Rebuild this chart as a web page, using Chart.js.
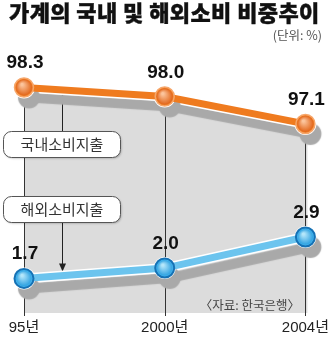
<!DOCTYPE html>
<html>
<head>
<meta charset="utf-8">
<script src="https://cdn.jsdelivr.net/npm/chart.js@4.4.0/dist/chart.umd.min.js"></script>
<style>
  html, body { margin: 0; padding: 0; background: #fff; }
  #wrap { position: relative; width: 332px; height: 340px; overflow: hidden; }
  #c { position: absolute; left: 0; top: 0; }
  #title { position: absolute; left: 9px; top: -5px; font: 900 22px "Noto Sans CJK KR"; letter-spacing: 0.4px; color: #111; white-space: nowrap; -webkit-text-stroke: 0.4px #111; }
  #unit { position: absolute; right: 10px; top: 25px; font: 12.5px "Noto Sans CJK KR"; color: #555; white-space: nowrap; }
</style>
</head>
<body>
<div id="wrap">
  <canvas id="c" width="332" height="340"></canvas>
  <div id="title">가계의 국내 및 해외소비 비중추이</div>
  <div id="unit">(단위: %)</div>
</div>
<script>
  'use strict';

  // data
  const years = ['95년', '2000년', '2004년'];
  const domestic = [98.3, 98.0, 97.1];
  const abroad = [1.7, 2.0, 2.9];
  const seriesNames = ['국내소비지출', '해외소비지출'];
  const sourceNote = '〈자료: 한국은행〉';

  const ORANGE = '#ef7b1f';
  const BLUE = '#6cc4ee';
  const SHADOW = '#a9a9a9';
  const FILL = '#dcdcdc';
  const NUM_FONT = '"Liberation Sans", Arial, sans-serif';
  const KR_FONT = '"Noto Sans CJK KR", sans-serif';

  function lineYAt(meta, x) {
    const pts = meta.data;
    for (let i = 0; i < pts.length - 1; i++) {
      const a = pts[i], b = pts[i + 1];
      if (x >= a.x && x <= b.x) {
        return a.y + (b.y - a.y) * (x - a.x) / (b.x - a.x);
      }
    }
    return pts[0].y;
  }

  function roundBox(ctx, x, y, w, h, r) {
    ctx.beginPath();
    ctx.moveTo(x + r, y);
    ctx.arcTo(x + w, y, x + w, y + h, r);
    ctx.arcTo(x + w, y + h, x, y + h, r);
    ctx.arcTo(x, y + h, x, y, r);
    ctx.arcTo(x, y, x + w, y, r);
    ctx.closePath();
  }

  function arrow(ctx, x, y1, y2) {
    // line from y1 to tip at y2
    const dir = y2 < y1 ? 1 : -1;
    ctx.beginPath();
    ctx.moveTo(x + 0.5, y1);
    ctx.lineTo(x + 0.5, y2);
    ctx.stroke();
    ctx.beginPath();
    ctx.moveTo(x + 0.5, y2);
    ctx.lineTo(x - 3, y2 + dir * 8);
    ctx.lineTo(x + 4, y2 + dir * 8);
    ctx.closePath();
    ctx.fill();
  }

  // gray area, drop lines, labels, arrows
  const backdrop = {
    id: 'backdrop',
    beforeDatasetsDraw(chart) {
      const ctx = chart.ctx;
      const area = chart.chartArea;
      const top = chart.getDatasetMeta(0).data;
      ctx.save();
      ctx.fillStyle = FILL;
      ctx.beginPath();
      ctx.moveTo(top[0].x, area.bottom - 3);
      top.forEach(p => ctx.lineTo(p.x, p.y + 10));
      ctx.lineTo(top[top.length - 1].x + 2, top[top.length - 1].y + 10);
      ctx.lineTo(top[top.length - 1].x + 2, area.bottom - 3);
      ctx.closePath();
      ctx.fill();

      ctx.strokeStyle = '#333';
      ctx.lineWidth = 1;
      top.forEach(p => {
        ctx.beginPath();
        ctx.moveTo(Math.round(p.x) + 0.5, p.y);
        ctx.lineTo(Math.round(p.x) + 0.5, area.bottom);
        ctx.stroke();
      });

      // arrows to the lines
      const ax = 62;
      const yTop = lineYAt(chart.getDatasetMeta(0), ax) + 4;
      const yBot = lineYAt(chart.getDatasetMeta(1), ax) - 4;
      ctx.fillStyle = '#222';
      ctx.strokeStyle = '#222';
      arrow(ctx, ax, 131, yTop);
      arrow(ctx, ax, 223, yBot);

      // label boxes
      const boxes = [[3.5, 131.5], [3.5, 196.5]];
      boxes.forEach((b, i) => {
        ctx.save();
        ctx.shadowColor = 'rgba(0,0,0,0.25)';
        ctx.shadowOffsetX = 1;
        ctx.shadowOffsetY = 1;
        ctx.shadowBlur = 2;
        roundBox(ctx, b[0], b[1], 117, 26, 8);
        ctx.fillStyle = '#fff';
        ctx.fill();
        ctx.restore();
        roundBox(ctx, b[0], b[1], 117, 26, 8);
        ctx.strokeStyle = '#555';
        ctx.stroke();
        ctx.fillStyle = '#333';
        ctx.font = '15px ' + KR_FONT;
        ctx.textAlign = 'center';
        ctx.textBaseline = 'middle';
        ctx.fillText(seriesNames[i], b[0] + 58.5, b[1] + 13);
      });
      ctx.restore();
    },
    beforeDatasetDraw(chart, args) {
      if (!args.meta._dataset.shadow) return;
      const ctx = chart.ctx;
      ctx.save();
      ctx.shadowColor = SHADOW;
      ctx.shadowOffsetX = 5;
      ctx.shadowOffsetY = 10;
      ctx.shadowBlur = 1;
    },
    afterDatasetDraw(chart, args) {
      if (!args.meta._dataset.shadow) return;
      chart.ctx.restore();
    },
    afterDatasetsDraw(chart) {
      const ctx = chart.ctx;
      ctx.save();
      // glossy point centres
      const shades = [['#fbc49c', '#e2661a'], ['#b4e6fa', '#2a9fe0']];
      [0, 1].forEach(di => {
        chart.getDatasetMeta(di).data.forEach(p => {
          const g = ctx.createRadialGradient(p.x - 2, p.y - 3, 1, p.x, p.y, 8);
          g.addColorStop(0, shades[di][0]);
          g.addColorStop(1, shades[di][1]);
          ctx.fillStyle = g;
          ctx.beginPath();
          ctx.arc(p.x, p.y, di === 0 ? 8 : 7.5, 0, Math.PI * 2);
          ctx.fill();
        });
      });
      // value labels
      ctx.fillStyle = '#111';
      ctx.font = 'bold 19px ' + NUM_FONT;
      ctx.textAlign = 'center';
      ctx.textBaseline = 'alphabetic';
      [[0, domestic], [1, abroad]].forEach(([di, vals]) => {
        chart.getDatasetMeta(di).data.forEach((p, i) => {
          ctx.fillText(vals[i].toFixed(1), p.x + 1, p.y - 19);
        });
      });
      // source
      ctx.fillStyle = '#444';
      ctx.font = '12.5px ' + KR_FONT;
      ctx.textAlign = 'right';
      ctx.textBaseline = 'middle';
      ctx.fillText(sourceNote, 300, 305);
      ctx.restore();
    }
  };

  new Chart(document.getElementById('c'), {
    type: 'line',
    data: {
      labels: years,
      datasets: [
        {
          label: seriesNames[0], data: domestic, yAxisID: 'yD',
          borderColor: ORANGE, borderWidth: 7, tension: 0,
          pointRadius: 9.5, pointBackgroundColor: '#ee7d26',
          pointBorderColor: '#f6a66a', pointBorderWidth: 1.5, clip: false
        },
        {
          label: seriesNames[1], data: abroad, yAxisID: 'yA',
          borderColor: BLUE, borderWidth: 7, tension: 0,
          pointRadius: 9.5, pointBackgroundColor: '#3fb0ea',
          pointBorderColor: '#1672b5', pointBorderWidth: 2, clip: false
        },
        {
          label: 'o', data: domestic, yAxisID: 'yD', shadow: true,
          borderColor: '#fff', borderWidth: 10, tension: 0,
          pointRadius: 11, pointBackgroundColor: '#fff',
          pointBorderColor: '#fff', pointBorderWidth: 0, clip: false
        },
        {
          label: 'o', data: abroad, yAxisID: 'yA', shadow: true,
          borderColor: '#fff', borderWidth: 10, tension: 0,
          pointRadius: 11, pointBackgroundColor: '#fff',
          pointBorderColor: '#fff', pointBorderWidth: 0, clip: false
        }
      ]
    },
    options: {
      responsive: false,
      animation: false,
      devicePixelRatio: 1,
      layout: { padding: { left: 24, right: 25, top: 40, bottom: 0 } },
      plugins: {
        legend: { display: false },
        tooltip: { enabled: false }
      },
      scales: {
        x: {
          offset: false,
          grid: { display: false, drawTicks: false },
          border: { display: false },
          ticks: {
            color: '#222', padding: 3, maxRotation: 0, autoSkip: false,
            font: { family: '"Liberation Sans", "Noto Sans CJK KR", sans-serif', size: 15 }
          }
        },
        yD: { display: false, min: 90.78, max: 99.86 },
        yA: { display: false, min: 0.61, max: 8.61 }
      }
    },
    plugins: [backdrop]
  });
</script>
</body>
</html>
